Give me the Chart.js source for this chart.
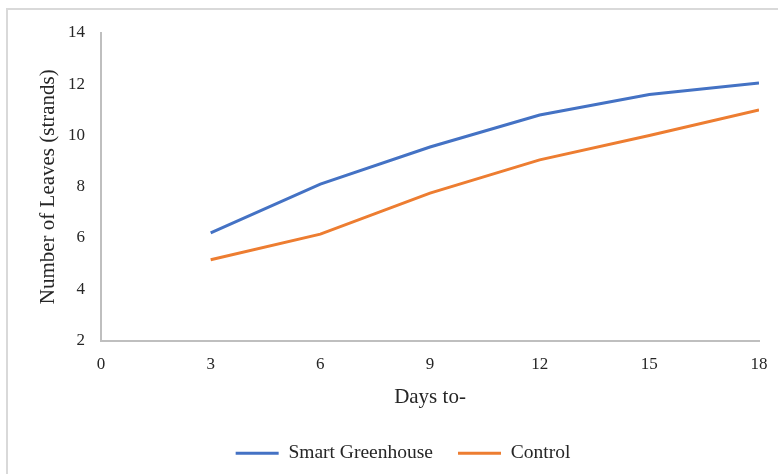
<!DOCTYPE html>
<html>
<head>
<meta charset="utf-8">
<script src="https://cdn.jsdelivr.net/npm/chart.js@4"></script>
<style>
  html, body { margin:0; padding:0; background:#fff; overflow:hidden; }
  #wrap { position:relative; width:778px; height:474px; }
  #marco { position:absolute; left:6px; top:8px; width:800px; height:500px; border:2px solid #d9d9d9; pointer-events:none; }
</style>
</head>
<body>
<div id="wrap">
  <canvas id="grafica" width="778" height="474"></canvas>
  <div id="marco"></div>
</div>
<script>
// datos
const dias = [3, 6, 9, 12, 15, 18]
const smartGreenhouse = [6.2, 8.1, 9.55, 10.8, 11.6, 12.05]
const control = [5.15, 6.15, 7.75, 9.05, 10.0, 11.0]
const ticksY = [2, 4, 6, 8, 10, 12, 14]
const ticksX = [0, 3, 6, 9, 12, 15, 18]

const fuente = "'Liberation Serif', 'Times New Roman', serif"
const colorTexto = '#262626'

var puntos = (ys) => dias.map((d, i) => ({ x: d, y: ys[i] }))

var ctx = document.getElementById('grafica').getContext('2d')
var chart = new Chart(ctx, {
  type: 'line',
  data: {
    datasets: [
      {
        label: 'Smart Greenhouse',
        data: puntos(smartGreenhouse),
        borderColor: '#4472C4',
        backgroundColor: '#4472C4',
        borderWidth: 3,
        pointRadius: 0,
        tension: 0
      },
      {
        label: 'Control',
        data: puntos(control),
        borderColor: '#ED7D31',
        backgroundColor: '#ED7D31',
        borderWidth: 3,
        pointRadius: 0,
        tension: 0
      }
    ]
  },
  options: {
    responsive: false,
    animation: false,
    layout: { padding: { top: 33, right: 11, bottom: 1, left: 39 } },
    plugins: {
      tooltip: { enabled: false },
      legend: {
        position: 'bottom',
        labels: {
          usePointStyle: true,
          pointStyle: 'line',
          pointStyleWidth: 43,
          boxHeight: 3,
          padding: 25,
          color: colorTexto,
          font: { family: fuente, size: 19.5 }
        }
      }
    },
    scales: {
      x: {
        type: 'linear',
        min: 0,
        max: 18,
        afterBuildTicks: (s) => { s.ticks = ticksX.map(v => ({ value: v })) },
        afterFit: (s) => { s.height = 78; s.paddingRight = 19 },
        grid: { display: false, drawTicks: false },
        border: { display: true, color: '#bfbfbf', width: 2 },
        ticks: { padding: 14, color: colorTexto, font: { family: fuente, size: 17 } },
        title: {
          display: true,
          text: 'Days to-',
          color: colorTexto,
          font: { family: fuente, size: 21 },
          padding: { top: 4, bottom: 8 }
        }
      },
      y: {
        min: 2,
        max: 14,
        afterBuildTicks: (s) => { s.ticks = ticksY.map(v => ({ value: v })) },
        afterFit: (s) => { s.width = 62 },
        grid: { display: false, drawTicks: false },
        border: { display: true, color: '#bfbfbf', width: 2 },
        ticks: { padding: 16, color: colorTexto, font: { family: fuente, size: 17 } },
        title: {
          display: true,
          text: 'Number of Leaves (strands)',
          color: colorTexto,
          font: { family: fuente, size: 21 },
          padding: { top: -3, bottom: 0 }
        }
      }
    }
  }
})
</script>
</body>
</html>
